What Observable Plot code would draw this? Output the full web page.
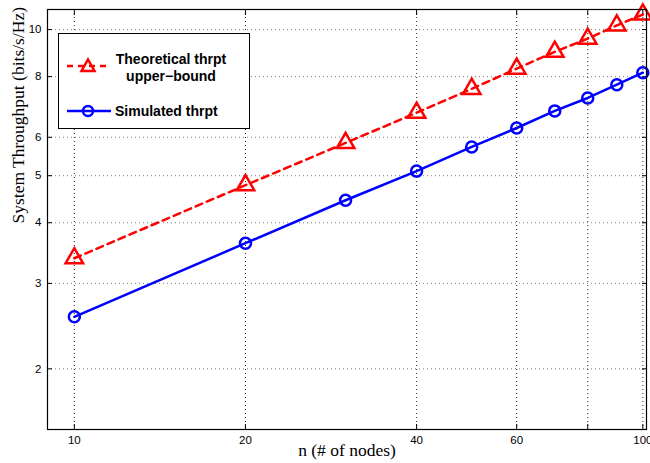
<!DOCTYPE html>
<html><head><meta charset="utf-8">
<script src="https://cdn.jsdelivr.net/npm/d3@7"></script>
<script src="https://cdn.jsdelivr.net/npm/@observablehq/plot@0.6"></script>
<style>
html,body{margin:0;padding:0;background:#fff;}
#wrap{position:relative;width:650px;height:463px;}
#legend{position:absolute;left:58px;top:33px;width:190px;height:94px;border:1.3px solid #000;background:#fff;font-family:"Liberation Sans",Arial,sans-serif;font-weight:bold;font-size:14px;color:#000;}
#legend svg{position:absolute;left:0;top:0;}
.lt{position:absolute;white-space:nowrap;text-align:center;line-height:17px;}
</style></head>
<body><div id="wrap"><div id="chart"></div>
<div id="legend">
<svg width="190" height="94">
<line x1="8" y1="32" x2="52" y2="32" stroke="#ff0000" stroke-width="2.5" stroke-dasharray="6,5"/>
<path d="M29,25.5 L35.5,37 L22.5,37 Z" fill="none" stroke="#ff0000" stroke-width="2.5"/>
<line x1="8" y1="77" x2="52" y2="77" stroke="#0000ff" stroke-width="2.5"/>
<circle cx="29" cy="77" r="5" fill="none" stroke="#0000ff" stroke-width="2.5"/>
</svg>
<div class="lt" style="left:50px;top:16.5px;width:124px;">Theoretical thrpt<br>upper&#8722;bound</div>
<div class="lt" style="left:56px;top:68.5px;">Simulated thrpt</div>
</div></div>
<script>
const nodes = [10, 20, 30, 40, 50, 60, 70, 80, 90, 100];
const theoretical = [3.38, 4.78, 5.84, 6.74, 7.55, 8.31, 9.0, 9.58, 10.2, 10.74];
const simulated = [2.56, 3.63, 4.45, 5.11, 5.73, 6.27, 6.80, 7.23, 7.70, 8.15];
const xTicks = [10, 20, 40, 60, 80, 100];
const yTicks = [2, 3, 4, 5, 6, 8, 10];
const xLabel = "n (# of nodes)";
const yLabel = "System Throughput (bits/s/Hz)";

const theo = nodes.map((n, i) => ({n, v: theoretical[i]}));
const sim = nodes.map((n, i) => ({n, v: simulated[i]}));
const sans = "'Liberation Sans', Arial, sans-serif";
const serif = "'Liberation Serif', 'DejaVu Serif', serif";

const chart = Plot.plot({
  width: 650, height: 463,
  marginLeft: 47, marginRight: 4, marginTop: 9, marginBottom: 34,
  style: {background: "#fff", fontFamily: sans, fontSize: "11.5px", color: "#000"},
  x: {type: "log", domain: [8.97, 101.5]},
  y: {type: "log", domain: [1.5, 11]},
  marks: [
    Plot.gridX(xTicks, {stroke: "#000", strokeOpacity: 0.85, strokeDasharray: "1,3"}),
    Plot.gridY(yTicks, {stroke: "#000", strokeOpacity: 0.5, strokeDasharray: "1,3"}),
    Plot.axisX(xTicks, {anchor: "bottom", tickSize: -5, tickPadding: 11, tickFormat: d => String(d), label: null, fontSize: 11.5}),
    Plot.axisX(xTicks, {anchor: "top", tickSize: -5, tickFormat: () => "", label: null}),
    Plot.axisY(yTicks, {anchor: "left", tickSize: -5, tickPadding: 11, tickFormat: d => String(d), label: null, fontSize: 11.5}),
    Plot.axisY(yTicks, {anchor: "right", tickSize: -5, tickFormat: () => "", label: null}),
    Plot.line(theo, {x: "n", y: "v", stroke: "#ff0000", strokeWidth: 2.5, strokeDasharray: "7,5"}),
    Plot.dot(theo, {x: "n", y: "v", symbol: "triangle", r: 6.5, stroke: "#ff0000", strokeWidth: 2.5, fill: "none"}),
    Plot.line(sim, {x: "n", y: "v", stroke: "#0000ff", strokeWidth: 2.5}),
    Plot.dot(sim, {x: "n", y: "v", r: 5.5, stroke: "#0000ff", strokeWidth: 2.5, fill: "none"}),
    Plot.frame({stroke: "#000", strokeWidth: 1.2}),
    Plot.text([xLabel], {text: d => d, frameAnchor: "bottom", dy: 26, fontFamily: serif, fontSize: 17.5}),
    Plot.text([yLabel], {text: d => d, frameAnchor: "left", rotate: -90, dx: -29, dy: 4, fontFamily: serif, fontSize: 17.5})
  ]
});
document.getElementById("chart").appendChild(chart);
</script></body></html>
